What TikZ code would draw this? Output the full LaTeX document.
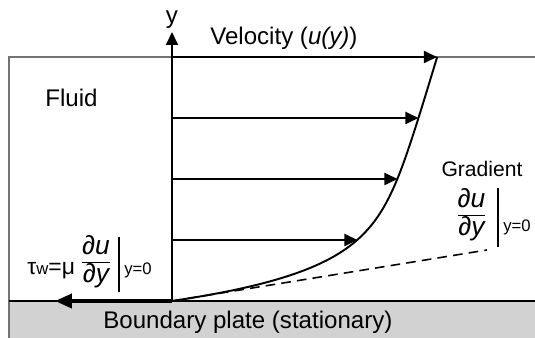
\documentclass[tikz,border=0pt]{standalone}
\usepackage{fontspec}
\setmainfont{Liberation Sans}
\usetikzlibrary{arrows.meta}

\definecolor{plategray}{RGB}{210,210,210}

\newcommand*{\xleft}{-3.26}
\newcommand*{\xright}{7.26}
\newcommand*{\ytop}{4.88}
\newcommand*{\ybot}{-0.74}
\newcommand*{\dudy}{$\frac{\mbox{\itshape ∂u\rule[-4pt]{0pt}{1pt}}}{\mbox{\itshape ∂y}}$}

\begin{document}
\begin{tikzpicture}
[
	txt/.style={inner sep=0pt,font=\fontsize{13.7}{16}\selectfont},
	fractxt/.style={inner sep=0pt,font=\fontsize{15}{18}\selectfont},
	smalltxt/.style={inner sep=0pt,font=\fontsize{12}{14}\selectfont},
	tinytxt/.style={inner sep=0pt,font=\fontsize{9.5}{11}\selectfont},
	velarrow/.style={-{Triangle[length=7.4pt,width=6.8pt]},line width=1.1pt},
	wallarrow/.style={-{Triangle[length=9.6pt,width=8pt]},line width=2pt},
	border/.style={draw=black!55,line width=0.6pt}
]
	\useasboundingbox (-3.44,\ybot) rectangle (\xright,6.02);

	% plate and fluid
	\fill[plategray] (\xleft,\ybot) rectangle (\xright,0);
	\draw[border] (\xright,\ytop) -- (\xleft,\ytop) -- (\xleft,\ybot);
	\draw[line width=0.6pt] (\xleft,0) -- (\xright,0);

	% profile points
	\coordinate (o) at (0,0);
	\coordinate (p1) at (3.71,1.22);
	\coordinate (p2) at (4.51,2.44);
	\coordinate (p3) at (4.93,3.66);
	\coordinate (p4) at (5.3,\ytop);
	\coordinate (a1) at (0,1.22);
	\coordinate (a2) at (0,2.44);
	\coordinate (a3) at (0,3.66);
	\coordinate (a4) at (0,\ytop);

	% axis
	\coordinate (ytip) at (0,5.38);
	\draw[velarrow] (o) -- (ytip);
	\node[txt,anchor=base] (ylab) at (0,5.54) {y};
	\node[txt,anchor=base west] (vel) at (0.76,5.12) {Velocity (\textit{u(y)})};

	% velocity profile
	\foreach \i in {1,...,4}
		\draw[velarrow] (a\i) -- (p\i);
	\draw[line width=1.1pt, domain=0:4.88, samples=80, smooth] plot ({3.84*(1-exp(-\x/0.6))+0.3*\x},\x);

	% wall gradient
	\coordinate (g) at (6.3,1.02);
	\draw[dash pattern=on 5.5pt off 3.5pt,line width=0.9pt] (o) -- (g);

	% wall shear stress
	\coordinate (w) at (-2.34,0);
	\draw[wallarrow] (o) -- (w);
	\node[inner sep=0pt,font=\fontsize{13}{15}\selectfont,anchor=base west] (tau) at (-2.9,0.52) {τ{\fontsize{9.5}{11}\selectfont w}=μ};
	\node[fractxt,anchor=base] (frac1) at (-1.52,0.65) {\dudy};
	\draw[line width=1.1pt] (-1.06,1.28) -- (-1.06,0.18);
	\node[tinytxt,anchor=base west] (at1) at (-0.96,0.52) {y=0};

	% labels
	\node[smalltxt,anchor=base] (grad) at (6.2,2.48) {Gradient};
	\node[fractxt,anchor=base] (frac2) at (5.99,1.58) {\dudy};
	\draw[line width=1.1pt] (6.52,2.26) -- (6.52,1.08);
	\node[tinytxt,anchor=base west] (at2) at (6.62,1.38) {y=0};
	\node[txt,anchor=base west] (fluid) at (-2.54,3.88) {Fluid};
	\node[txt,anchor=base west] (plate) at (-1.38,-0.56) {Boundary plate (stationary)};

\end{tikzpicture}
\end{document}
